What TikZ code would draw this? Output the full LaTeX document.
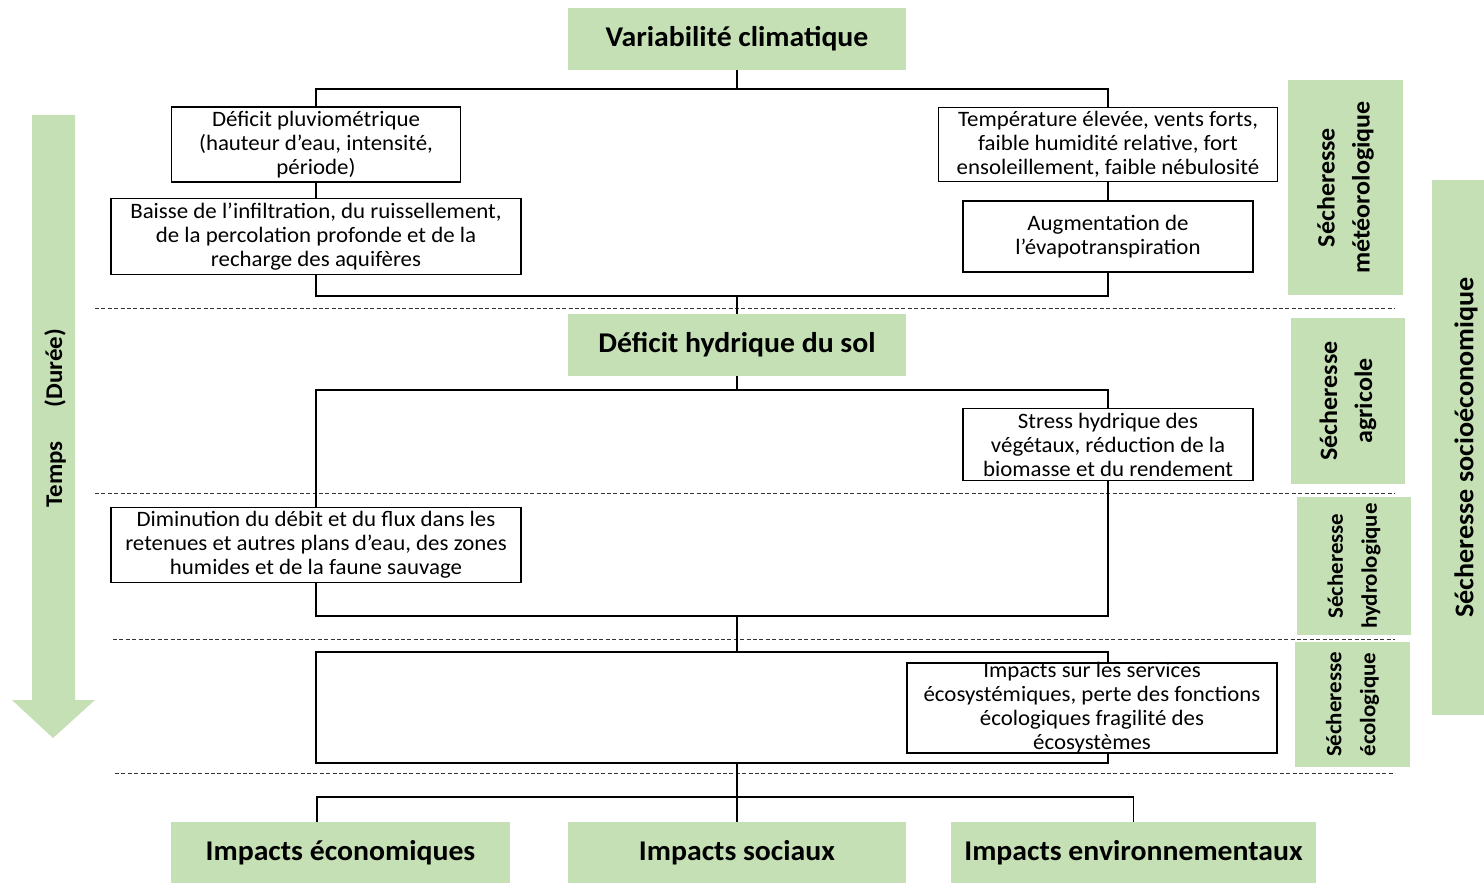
\documentclass[tikz,border=0pt]{standalone}
\usepackage{fontspec}
\setmainfont[FakeStretch=1.04]{Carlito}
\usepackage{xcolor}
\usepackage{tikz}
\usetikzlibrary{positioning}
\definecolor{vertclair}{HTML}{C5E0B4}

\begin{document}
\begin{tikzpicture}[x=0.5pt, y=-0.5pt,
  every node/.style={font=\fontsize{11}{12}\selectfont},
  boite/.style={draw, line width=0.6pt, fill=white, align=center, inner sep=2pt, minimum height=35.5pt},
  titre/.style={fill=vertclair, font=\fontsize{14.3}{16}\selectfont\bfseries, minimum height=31pt},
  type/.style={fill=vertclair, rotate=90, align=center, font=\fontsize{12.5}{17.5}\selectfont\bfseries},
  lien/.style={line width=0.6pt},
  sep/.style={dash pattern=on 2pt off 1.2pt, line width=0.5pt, black!80}]
  \useasboundingbox (0,0) rectangle (1484,883);
  % fleche du temps
  \fill[vertclair] (32,115) -- (75,115) -- (75,700) -- (95,700) -- (53,738) -- (12,700) -- (32,700) -- cycle;
  \node[rotate=90, font=\fontsize{12}{14}\selectfont\bfseries] (temps) at (55,418) {Temps\hspace{17pt}(Durée)};
  % separations
  \draw[sep] (95,308) -- (1395,308);
  \draw[sep] (95,493) -- (1395,493);
  \draw[sep] (113,639) -- (1395,639);
  \draw[sep] (115,773) -- (1395,773);
  % cascade
  \node[titre, minimum width=169pt] (varclim) at (737,39) {Variabilité climatique};
  \node[boite, minimum width=144.5pt] (defpluie) at (316,144.5) {Déficit pluviométrique\\(hauteur d’eau, intensité,\\période)};
  \node[boite, minimum width=205pt] (baisse) at (316,236.5) {Baisse de l’infiltration, du ruissellement,\\de la percolation profonde et de la\\recharge des aquifères};
  \node[boite, minimum width=169.5pt] (temper) at (1108,144.5) {Température élevée, vents forts,\\faible humidité relative, fort\\ensoleillement, faible nébulosité};
  \node[boite, minimum width=145pt] (evapo) at (1108,236.5) {Augmentation de\\l’évapotranspiration};
  \node[titre, minimum width=169pt] (defsol) at (737,345) {Déficit hydrique du sol};
  \node[boite, minimum width=145pt] (stress) at (1108,444.5) {Stress hydrique des\\végétaux, réduction de la\\biomasse et du rendement};
  \node[boite, minimum width=205pt] (debit) at (316,545) {Diminution du débit et du flux dans les\\retenues et autres plans d’eau, des zones\\humides et de la faune sauvage};
  \coordinate (c1) at (737,89);
  \coordinate (c2) at (737,296);
  \coordinate (c3) at (737,390);
  \coordinate (c4) at (737,616);
  \coordinate (c5) at (737,652);
  \coordinate (c6) at (737,763);
  \coordinate (c7) at (737,797);
  \draw[lien] (varclim) -- (c1);
  \draw[lien] (defpluie) |- (c1) -| (temper);
  \draw[lien] (defpluie) -- (baisse);
  \draw[lien] (temper) -- (evapo);
  \draw[lien] (baisse) |- (c2) -| (evapo);
  \draw[lien] (c2) -- (defsol);
  \draw[lien] (defsol) -- (c3);
  \draw[lien] (debit) |- (c3) -| (stress);
  \draw[lien] (debit) |- (c4) -| (stress);
  \draw[lien] (c4) -- (c5);
  \draw[lien] (c5) -| (debit.south |- c6) -- (c6 -| stress.south) |- (c5);
  \node[boite, minimum width=185pt, minimum height=45pt, inner ysep=-1pt] (ecosys) at (1092,708) {Impacts sur les services\\écosystémiques, perte des fonctions\\écologiques fragilité des\\écosystèmes};
  % impacts
  \node[titre, minimum width=169.5pt, minimum height=30.5pt] (impeco) at (340.5,852.5) {Impacts économiques};
  \node[titre, minimum width=169pt, minimum height=30.5pt] (impsoc) at (737,852.5) {Impacts sociaux};
  \node[titre, minimum width=182.5pt, minimum height=30.5pt] (impenv) at (1133.5,852.5) {Impacts environnementaux};
  \coordinate (c8) at (317,822);
  \draw[lien] (c6) -- (c7);
  \draw[lien] (c7) -- (impsoc);
  \draw[lien] (c8) |- (c7) -| (impenv);
  % types de secheresse
  \node[type, minimum width=107.5pt, minimum height=57.5pt] (meteo) at (1345.5,187.5) {Sécheresse\\météorologique};
  \node[type, minimum width=83pt, minimum height=57pt] (agri) at (1348,401) {Sécheresse\\agricole};
  \node[type, minimum width=66pt, minimum height=57pt, font=\fontsize{11}{17}\selectfont\bfseries] (hydro) at (1354,566) {Sécheresse\\hydrologique};
  \node[type, minimum width=62.5pt, minimum height=57.5pt, font=\fontsize{11}{17}\selectfont\bfseries] (ecolo) at (1352.5,704.5) {Sécheresse\\écologique};
  \node[type, minimum width=267.5pt, minimum height=34pt, font=\fontsize{13.5}{16}\selectfont\bfseries] (socio) at (1466,447.5) {Sécheresse socioéconomique};
\end{tikzpicture}
\end{document}
